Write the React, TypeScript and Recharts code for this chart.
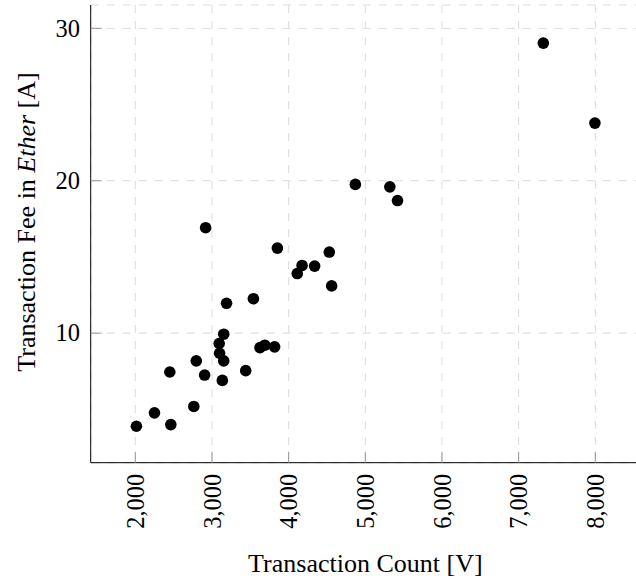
import { CartesianGrid, Label, Scatter, ScatterChart, XAxis, YAxis } from "recharts";

// transaction count per sample
const txCount = [
  7322, 7995, 4870, 5320, 5420, 2917, 3853, 4530, 4175, 4339, 4112, 4561, 3540, 3190, 3153,
  3094, 3099, 3153, 3626, 3689, 3817, 2795, 2450, 2904, 3440, 3135, 2763, 2250, 2463, 2014,
];
// fee in ether
const txFee = [
  29.03, 23.78, 19.76, 19.6, 18.7, 16.92, 15.58, 15.32, 14.44, 14.4, 13.91, 13.1, 12.26, 11.96, 9.93,
  9.32, 8.68, 8.18, 9.05, 9.21, 9.1, 8.18, 7.45, 7.25, 7.54, 6.9, 5.19, 4.77, 4.0, 3.89,
];
const xTicks = [2000, 3000, 4000, 5000, 6000, 7000, 8000];
const yTicks = [10, 20, 30];
const xDomain: [number, number] = [1418, 8583];
const yDomain: [number, number] = [1.5, 31.53];

const FONT = "'Liberation Serif', 'Times New Roman', serif";
const TICK_LEN = 11;
const TICK_COLOR = "#999";

const points = txCount.map((c, i) => ({ count: c, fee: txFee[i] }));

function BottomTick(props: any) {
  const { x, y, payload } = props;
  const ty = y + 11;
  return (
    <g>
      <line x1={x} x2={x} y1={y} y2={y - TICK_LEN} stroke={TICK_COLOR} />
      <text
        x={x}
        y={ty}
        dy="0.35em"
        textAnchor="end"
        transform={`rotate(-90, ${x}, ${ty})`}
        fontFamily={FONT}
        fontSize={24.5}
        fill="#000"
      >
        {Number(payload.value).toLocaleString("en-US")}
      </text>
    </g>
  );
}

function TopTick(props: any) {
  const { x, y } = props;
  return <line x1={x} x2={x} y1={y} y2={y + TICK_LEN} stroke={TICK_COLOR} />;
}

function LeftTick(props: any) {
  const { x, y, payload } = props;
  return (
    <g>
      <line x1={x} x2={x + TICK_LEN} y1={y} y2={y} stroke={TICK_COLOR} />
      <text x={x - 10.7} y={y} dy="0.34em" textAnchor="end" fontFamily={FONT} fontSize={24.5} fill="#000">
        {payload.value}
      </text>
    </g>
  );
}

function RightTick(props: any) {
  const { x, y } = props;
  return <line x1={x} x2={x - TICK_LEN} y1={y} y2={y} stroke={TICK_COLOR} />;
}

function XTitle(props: any) {
  const vb = props.viewBox;
  return (
    <text x={vb.x + vb.width / 2} y={vb.y + 108.8} textAnchor="middle" fontFamily={FONT} fontSize={26} fill="#000">
      Transaction Count [V]
    </text>
  );
}

function YTitle() {
  const cx = 35;
  const cy = 222;
  return (
    <text
      x={cx}
      y={cy}
      textAnchor="middle"
      transform={`rotate(-90, ${cx}, ${cy})`}
      fontFamily={FONT}
      fontSize={26}
      fill="#000"
    >
      Transaction Fee in <tspan fontStyle="italic">Ether</tspan> [A]
    </text>
  );
}

function Dot(props: any) {
  return <circle cx={props.cx} cy={props.cy} r={5.8} fill="#000" />;
}

export default function App() {
  return (
    <div style={{ position: "absolute", left: 0, top: 0, width: 636, height: 580, overflow: "hidden", background: "#fff" }}>
      <ScatterChart width={645} height={580} margin={{ top: 5, right: 5, bottom: 17.3, left: 0 }}>
        <CartesianGrid stroke="#dcdcdc" strokeDasharray="8 8" />
        <XAxis
          dataKey="count"
          type="number"
          domain={xDomain}
          ticks={xTicks}
          allowDataOverflow
          height={100}
          tickSize={0}
          tickMargin={0}
          tickLine={false}
          axisLine={{ stroke: "#000" }}
          tick={<BottomTick />}
          interval={0}
        >
          <Label content={<XTitle />} />
        </XAxis>
        <XAxis
          xAxisId="top"
          orientation="top"
          type="number"
          domain={xDomain}
          ticks={xTicks}
          allowDataOverflow
          height={0}
          tickSize={0}
          tickMargin={0}
          tickLine={false}
          axisLine={{ stroke: "#000" }}
          tick={<TopTick />}
          interval={0}
        />
        <YAxis
          dataKey="fee"
          type="number"
          domain={yDomain}
          ticks={yTicks}
          allowDataOverflow
          width={90.7}
          tickSize={0}
          tickMargin={0}
          tickLine={false}
          axisLine={{ stroke: "#000" }}
          tick={<LeftTick />}
          interval={0}
        >
          <Label content={<YTitle />} />
        </YAxis>
        <YAxis
          yAxisId="right"
          orientation="right"
          type="number"
          domain={yDomain}
          ticks={yTicks}
          allowDataOverflow
          width={0}
          tickSize={0}
          tickMargin={0}
          tickLine={false}
          axisLine={{ stroke: "#000" }}
          tick={<RightTick />}
          interval={0}
        />
        <Scatter data={points} fill="#000" shape={<Dot />} isAnimationActive={false} />
      </ScatterChart>
    </div>
  );
}
